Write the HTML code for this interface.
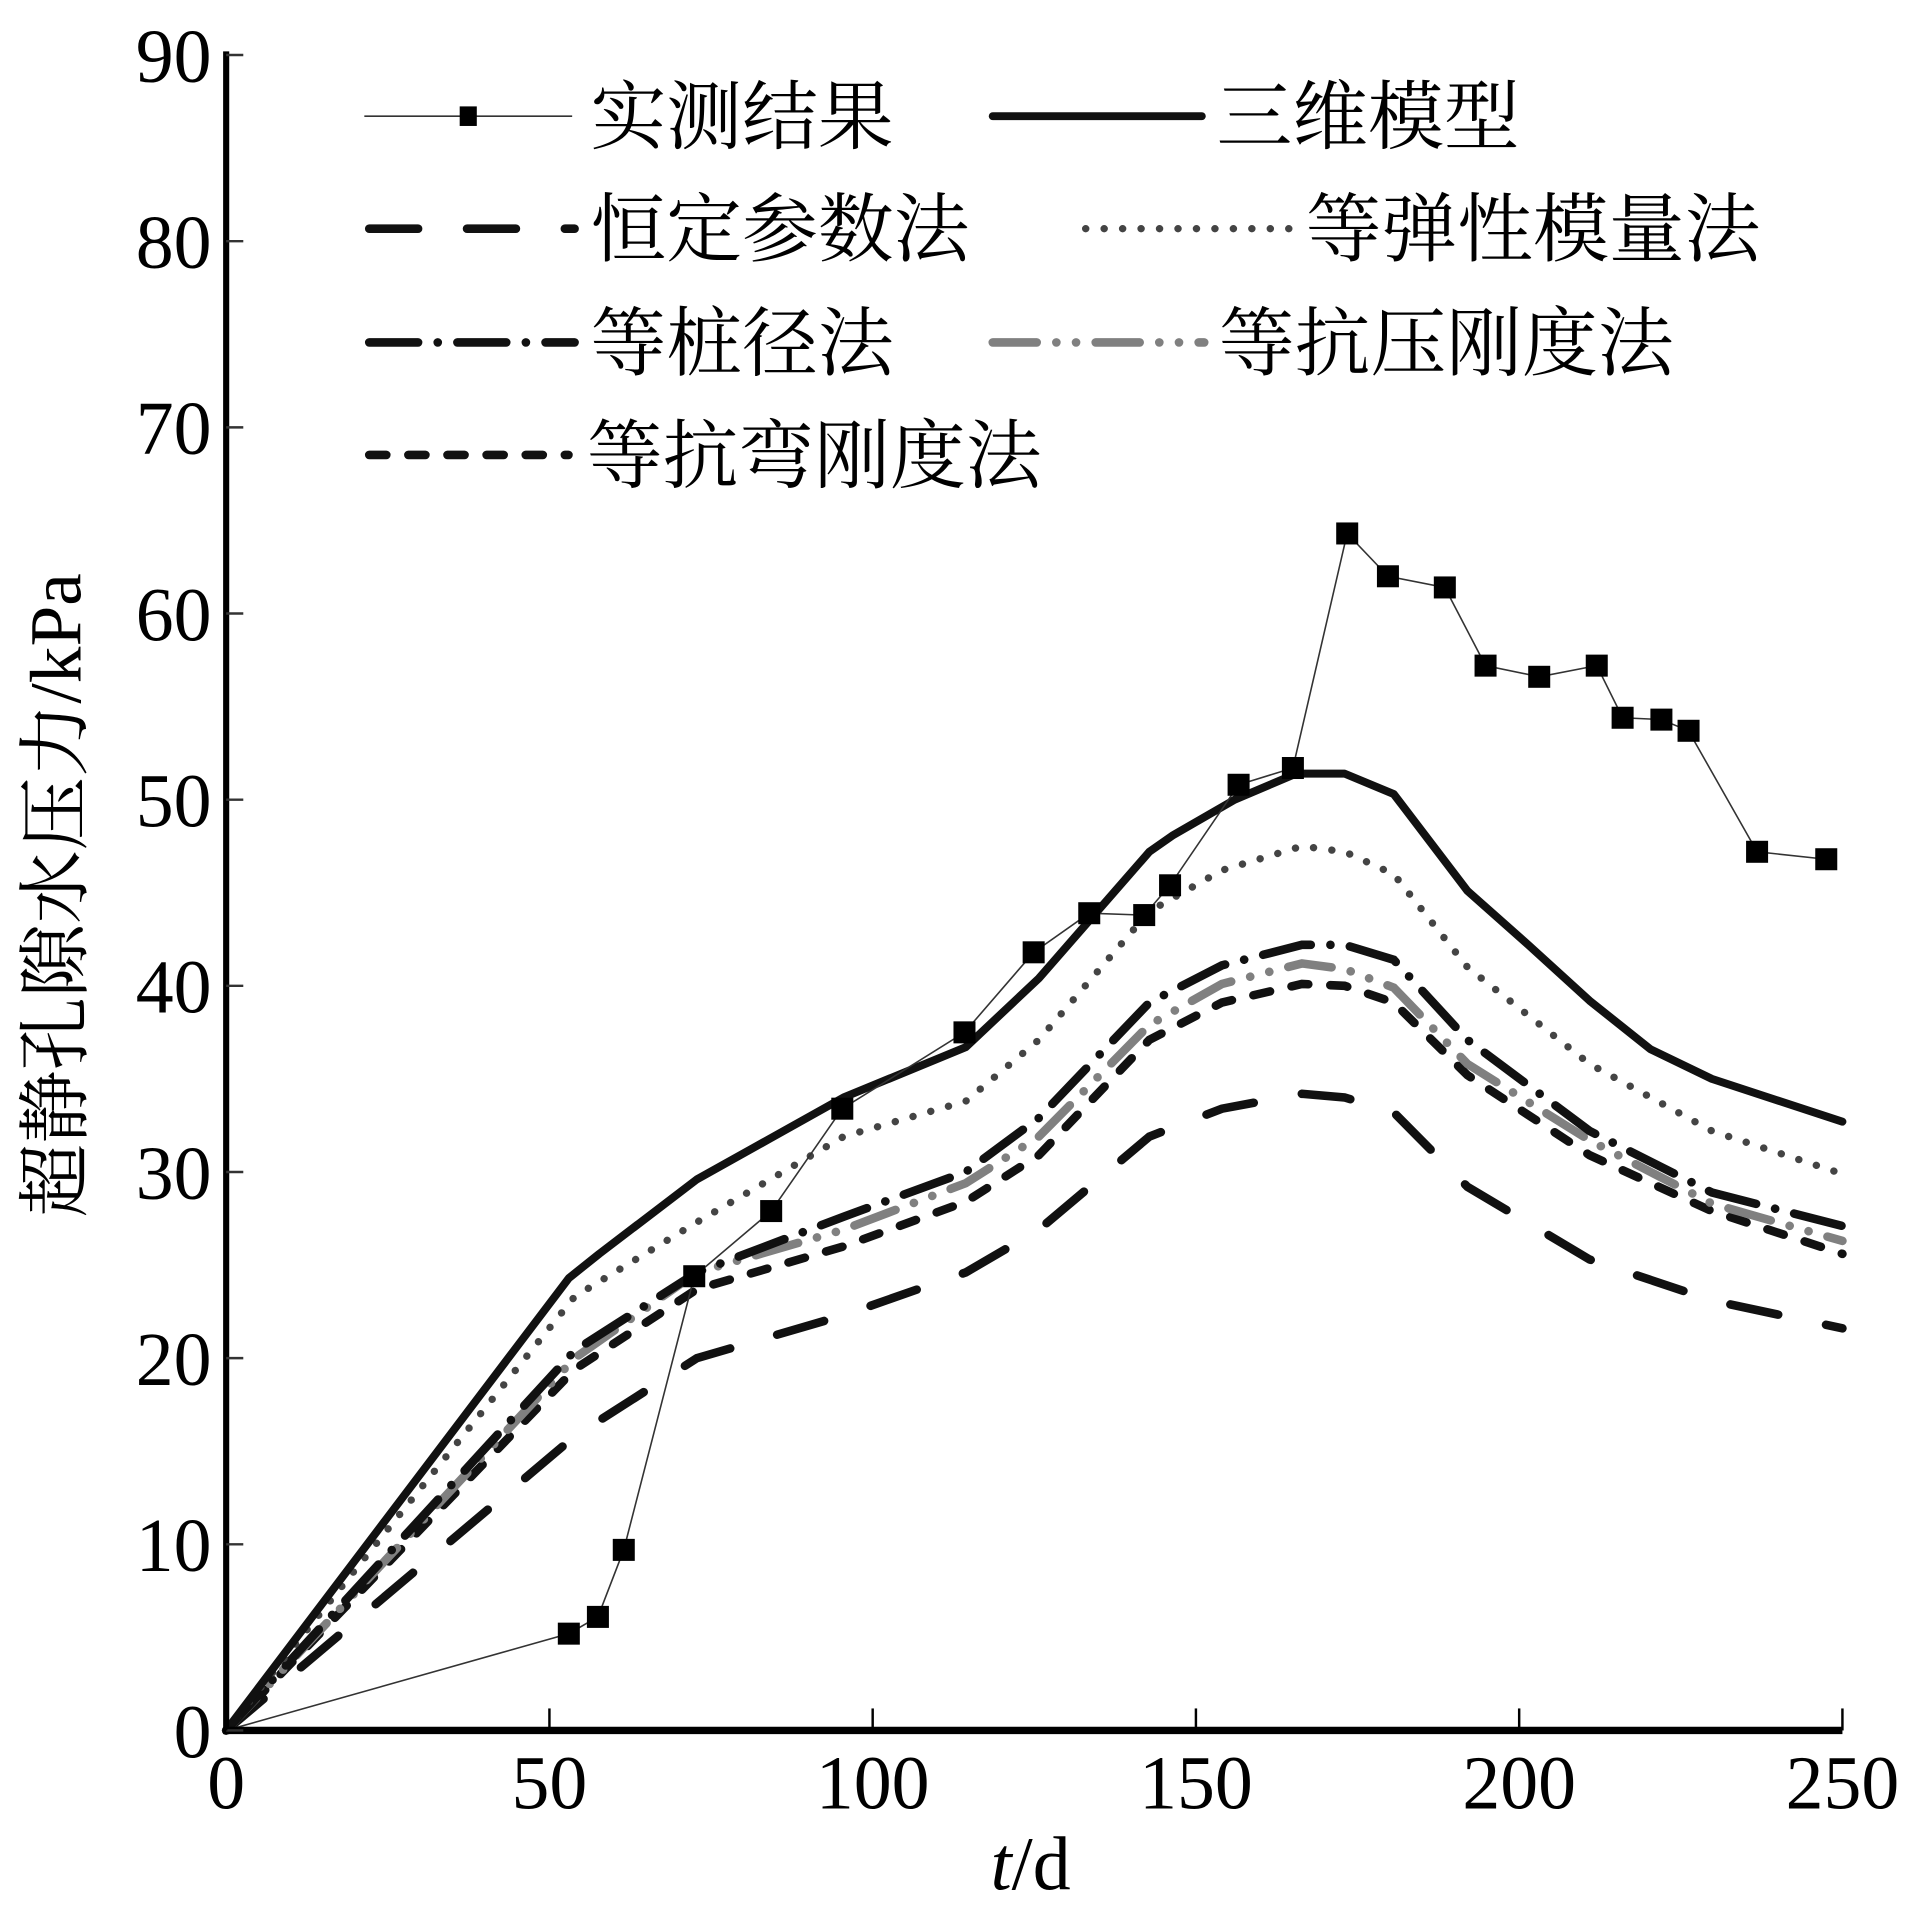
<!DOCTYPE html>
<html><head><meta charset="utf-8"><style>
html,body{margin:0;padding:0;background:#fff;}
svg{display:block;}
text{font-family:"Liberation Serif","Noto Serif CJK SC",serif;fill:#000;}
.cjk{font-family:"Liberation Serif","Noto Serif CJK SC","Noto Sans CJK SC",serif;}
</style></head><body>
<svg id="chart" width="1917" height="1909" viewBox="0 0 1568 1561" preserveAspectRatio="none" xmlns="http://www.w3.org/2000/svg">
<g id="plot"></g>
<g id="axes"></g>
<g id="legend"></g>
</svg>
<script>
const xTicks=[0,50,100,150,200,250];
const yTicks=[0,10,20,30,40,50,60,70,80,90];
const measT=[0,53,57.5,61.5,72.4,84.3,95.3,114.2,124.9,133.5,142,146,156.6,165,173.4,179.7,188.5,194.8,203.1,212,216,222,226.2,236.8,247.5];
const measV=[0,5.2,6.1,9.7,24.4,27.9,33.4,37.5,41.8,43.9,43.8,45.4,50.8,51.7,64.3,62,61.4,57.2,56.6,57.2,54.4,54.3,53.7,47.2,46.8];
const modelT=[0,53,57.7,72.8,95.5,114.4,125.7,142.8,146.5,156,165.5,173,180.6,192,201.4,210.9,220.3,229.8,250];
const model3dV=[0,24.3,25.6,29.6,34,36.7,40.4,47.2,48.1,50,51.4,51.4,50.3,45.1,42.2,39.2,36.6,35,32.7];
const curveT=[0,53.9,72.8,95.5,114.4,125.7,142.8,154,166.4,173,180.6,192,210.9,229.8,250];
const elasticV=[0,23.3,27.3,31.9,33.8,37.1,44,46.2,47.5,47.2,46,41,35.8,32.2,29.9];
const pileDiaV=[0,20.4,24.6,27.6,30,32.9,39.1,41.1,42.2,42.2,41.4,37.1,32.2,28.9,27.1];
const compV=[0,20,24.6,26.9,29.4,31.9,37.9,40.1,41.2,40.9,39.9,35.8,31.7,28.3,26.3];
const bendV=[0,19.4,23.7,26,28.4,30.9,37.1,39.1,40.1,40,39.1,35.2,30.9,27.9,25.6];
const constV=[0,15.8,20,22.3,24.6,26.9,31.9,33.4,34.2,34,33.2,29.2,25.3,23.1,21.6];

const NS='http://www.w3.org/2000/svg';
const X0=185,X1=1507,Y0=1415,Y1=45;
const sx=t=>X0+(t-0)/(250-0)*(X1-X0);
const sy=v=>Y0-(v-0)/(90-0)*(Y0-Y1);
function mk(tag,at,parent){const e=document.createElementNS(NS,tag);for(const k in at)e.setAttribute(k,at[k]);parent.appendChild(e);return e;}
const plot=document.getElementById('plot'),axes=document.getElementById('axes'),leg=document.getElementById('legend');
const styles={
 meas:{stroke:'#333','stroke-width':1.3,fill:'none'},
 model3d:{stroke:'#111','stroke-width':6.5,fill:'none','stroke-linejoin':'round','stroke-linecap':'round'},
 elastic:{stroke:'#444','stroke-width':6,fill:'none','stroke-dasharray':'0.1 15','stroke-linecap':'round'},
 pileDia:{stroke:'#111','stroke-width':7,fill:'none','stroke-dasharray':'40 16 0.1 16','stroke-linecap':'round'},
 comp:{stroke:'#808080','stroke-width':7,fill:'none','stroke-dasharray':'36 16 0.1 16 0.1 16','stroke-linecap':'round'},
 bend:{stroke:'#111','stroke-width':7,fill:'none','stroke-dasharray':'14 18','stroke-linecap':'round'},
 constP:{stroke:'#111','stroke-width':7,fill:'none','stroke-dasharray':'40 40','stroke-linecap':'round'}
};
function line(ts,vs,st,name){
 const d=ts.map((t,i)=>(i?'L':'M')+sx(t).toFixed(1)+' '+sy(vs[i]).toFixed(1)).join(' ');
 const p=mk('path',Object.assign({d:d},st),plot);
 
 
}
line(curveT,constV,styles.constP,'series-constant-param');
line(curveT,bendV,styles.bend,'series-equal-bending');
line(curveT,compV,styles.comp,'series-equal-compression');
line(curveT,pileDiaV,styles.pileDia,'series-equal-pile-diameter');
line(curveT,elasticV,styles.elastic,'series-equal-elastic');
line(modelT,model3dV,styles.model3d,'series-3d-model');
line(measT,measV,styles.meas,'series-measured-line');
measT.forEach((t,i)=>{ if(i===0)return;
 const r=mk('rect',{x:sx(t)-9,y:sy(measV[i])-9,width:18,height:18,fill:'#000'},plot);
 
 
});
let a=mk('line',{x1:X0,y1:Y1-3,x2:X0,y2:Y0+3,stroke:'#000','stroke-width':5},axes);

a=mk('line',{x1:X0-2,y1:Y0,x2:X1,y2:Y0,stroke:'#000','stroke-width':6},axes);

yTicks.forEach(v=>{
 const tk=mk('line',{x1:X0,y1:sy(v),x2:X0+14,y2:sy(v),stroke:'#333','stroke-width':2},axes);
 
 const tx=mk('text',{x:X0-12,y:sy(v)+22,'text-anchor':'end','font-size':62},axes);
 tx.textContent=v;
 
});
xTicks.forEach(t=>{
 const tk=mk('line',{x1:sx(t),y1:Y0,x2:sx(t),y2:Y0-18,stroke:'#000','stroke-width':2},axes);
 
 const tx=mk('text',{x:sx(t),y:Y0+64,'text-anchor':'middle','font-size':62},axes);
 tx.textContent=t;
 
});
let xt=mk('text',{x:843,y:1545,'text-anchor':'middle','font-size':62},axes);
xt.innerHTML='<tspan font-style="italic">t</tspan>/d';

let yt=mk('text',{x:0,y:0,'text-anchor':'middle','font-size':60,class:'cjk',transform:'translate(66,732) rotate(-90)'},axes);
yt.textContent='超静孔隙水压力/kPa';

const legItems=[
 {st:styles.meas,x1:298,x2:468,y:95,tx:483,label:'实测结果',sq:true,name:'legend-measured'},
 {st:styles.model3d,x1:812,x2:983,y:95,tx:995,label:'三维模型',name:'legend-3d-model'},
 {st:styles.constP,x1:302,x2:470,y:187,tx:483,label:'恒定参数法',name:'legend-constant-param'},
 {st:styles.elastic,x1:888,x2:1060,y:187,tx:1068,label:'等弹性模量法',name:'legend-equal-elastic'},
 {st:styles.pileDia,x1:302,x2:470,y:280,tx:483,label:'等桩径法',name:'legend-equal-pile-diameter'},
 {st:styles.comp,x1:812,x2:985,y:280,tx:997,label:'等抗压刚度法',name:'legend-equal-compression'},
 {st:styles.bend,x1:302,x2:465,y:372,tx:480,label:'等抗弯刚度法',name:'legend-equal-bending'}
];
legItems.forEach(it=>{
 const g=mk('g',{},leg);
 
 
 mk('line',Object.assign({x1:it.x1,y1:it.y,x2:it.x2,y2:it.y},it.st),g);
 if(it.sq) mk('rect',{x:376,y:it.y-8,width:14,height:16,fill:'#000'},g);
 const t=mk('text',{x:it.tx,y:it.y+22,'font-size':62,class:'cjk'},g);
 t.textContent=it.label;
});
</script>
</body></html>
